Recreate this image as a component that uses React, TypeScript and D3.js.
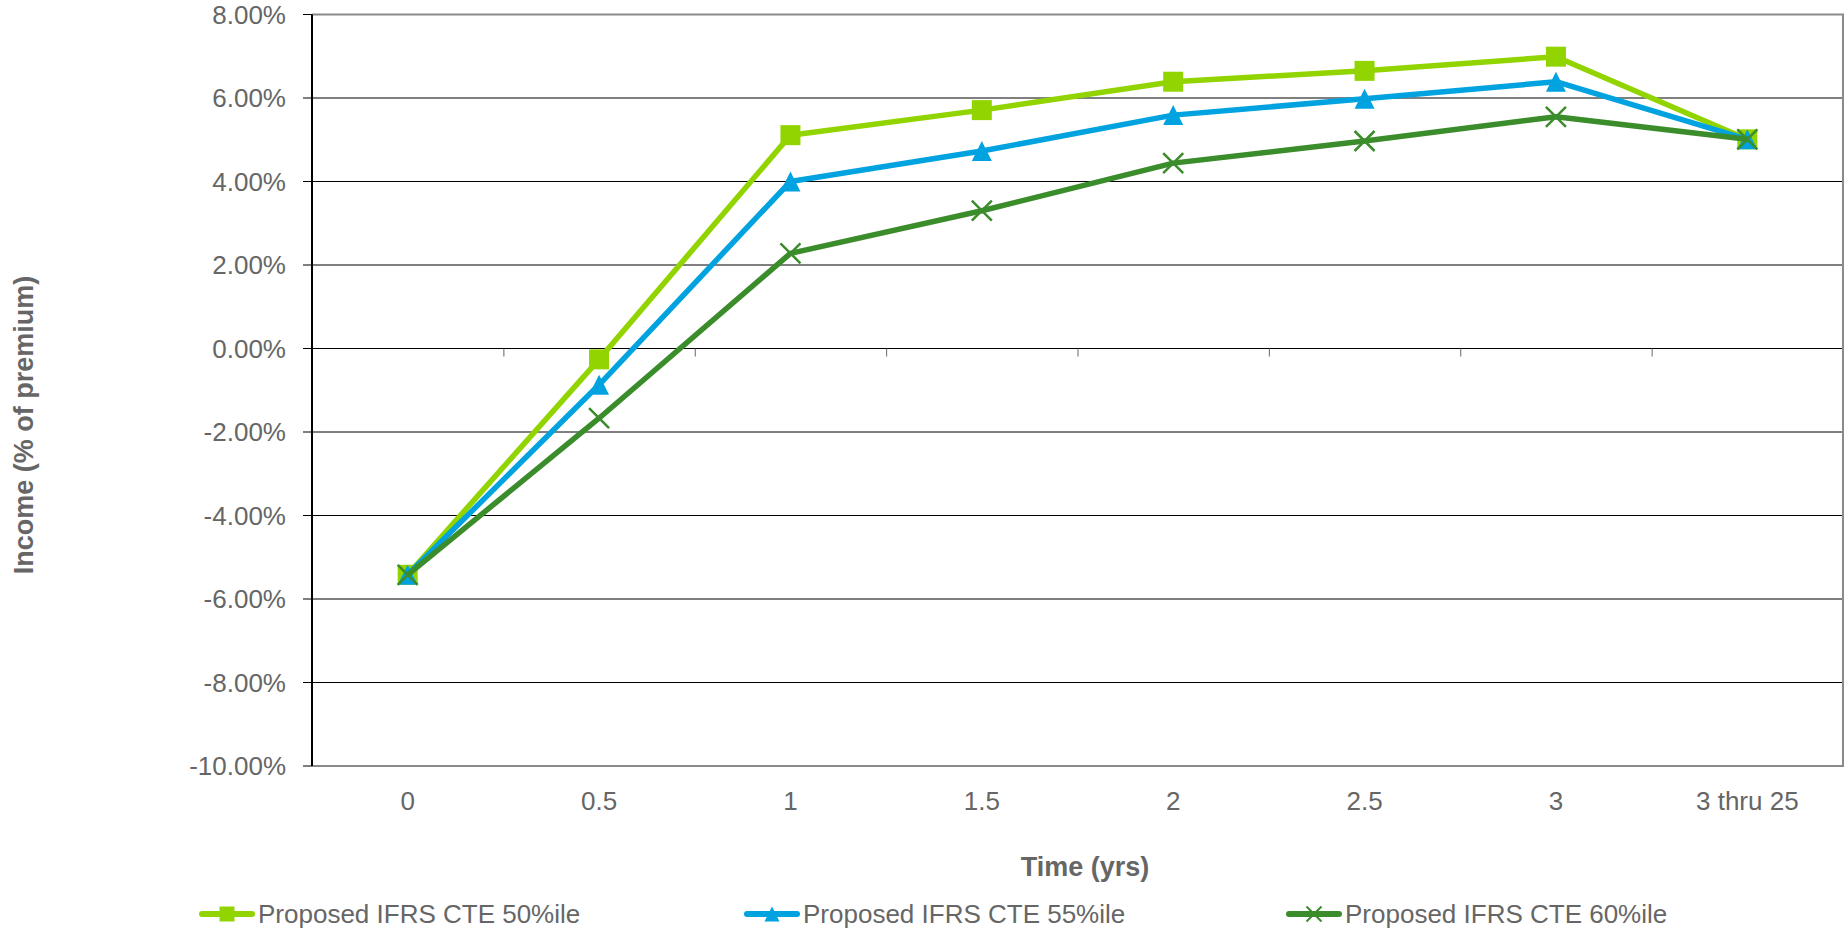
import React from "react";
import * as d3 from "d3";

const categories = ["0", "0.5", "1", "1.5", "2", "2.5", "3", "3 thru 25"];
const cte50 = [-5.42, -0.26, 5.11, 5.71, 6.39, 6.65, 6.99, 5.01];
const cte55 = [-5.42, -0.87, 4.0, 4.73, 5.59, 5.98, 6.39, 5.01];
const cte60 = [-5.42, -1.67, 2.28, 3.3, 4.44, 4.97, 5.55, 5.01];
const seriesNames = [
  "Proposed IFRS CTE 50%ile",
  "Proposed IFRS CTE 55%ile",
  "Proposed IFRS CTE 60%ile",
];
const yTicks = [8, 6, 4, 2, 0, -2, -4, -6, -8, -10];

const W = 1845;
const H = 934;
const FONT = "'Liberation Sans', Arial, Helvetica, sans-serif";
const TEXT = "#666666";

// box-centred triangle, like Excel's marker
const triangleType = {
  draw(ctx: any, size: number) {
    const r = Math.sqrt(size) / 2;
    ctx.moveTo(0, -r);
    ctx.lineTo(r, r);
    ctx.lineTo(-r, r);
    ctx.closePath();
  },
};
const crossType = {
  draw(ctx: any, size: number) {
    const r = Math.sqrt(size) / 2;
    ctx.moveTo(-r, -r);
    ctx.lineTo(r, r);
    ctx.moveTo(r, -r);
    ctx.lineTo(-r, r);
  },
};

const series = [
  { name: seriesNames[0], values: cte50, color: "#92d400", marker: "square" },
  { name: seriesNames[1], values: cte55, color: "#00a3e0", marker: "triangle" },
  { name: seriesNames[2], values: cte60, color: "#3b8c2b", marker: "cross" },
];

const markerPath = (kind: string, side: number) => {
  const type =
    kind === "square" ? d3.symbolSquare : kind === "triangle" ? triangleType : crossType;
  return d3.symbol().type(type as any).size(side * side)() as string;
};

const App: React.FC = () => {
  const margin = { top: 14.5, right: 2, bottom: 168, left: 312 };
  const x = d3
    .scaleBand<string>()
    .domain(categories)
    .range([margin.left, W - margin.right]);
  const y = d3.scaleLinear().domain([-10, 8]).range([H - margin.bottom, margin.top]);
  const cx = (c: string) => (x(c) as number) + x.bandwidth() / 2;

  const line = d3
    .line<number>()
    .x((_, i) => cx(categories[i]))
    .y((d) => y(d));

  const x0 = margin.left;
  const x1 = W - margin.right;
  const yTop = y(8);
  const yBot = y(-10);
  const yZero = y(0);

  const legendX = [199, 744, 1286];
  const legendY = 914;

  return (
    <svg
      width={W}
      height={H}
      style={{ position: "absolute", left: 0, top: 0, display: "block", background: "#fff" }}
      fontFamily={FONT}
    >
      {/* gridlines */}
      {yTicks.map((t) => (
        <line key={t} x1={x0} x2={x1} y1={y(t)} y2={y(t)} stroke="#000" strokeWidth={1} />
      ))}
      {/* plot border */}
      <path
        d={`M${x0},${yTop}H${x1}V${yBot}H${x0}`}
        fill="none"
        stroke="#8a8a8a"
        strokeWidth={2}
      />
      {/* y axis */}
      <line x1={x0} x2={x0} y1={yTop} y2={yBot} stroke="#000" strokeWidth={2} />
      {yTicks.map((t) => (
        <line key={"t" + t} x1={x0 - 9} x2={x0} y1={y(t)} y2={y(t)} stroke="#000" strokeWidth={1} />
      ))}
      {yTicks.map((t) => (
        <text
          key={"l" + t}
          x={286}
          y={y(t)}
          dy="0.35em"
          textAnchor="end"
          fontSize={26}
          fill={TEXT}
        >
          {t.toFixed(2) + "%"}
        </text>
      ))}
      {/* category ticks on zero line */}
      {categories.slice(1).map((c) => (
        <line
          key={"ct" + c}
          x1={(x(c) as number) + 0.5}
          x2={(x(c) as number) + 0.5}
          y1={yZero}
          y2={yZero + 8}
          stroke="#666"
          strokeWidth={1}
        />
      ))}
      {categories.map((c) => (
        <text key={"cl" + c} x={cx(c)} y={801} dy="0.35em" textAnchor="middle" fontSize={26} fill={TEXT}>
          {c}
        </text>
      ))}

      {/* axis titles */}
      <text x={1085} y={867} dy="0.35em" textAnchor="middle" fontSize={27} fontWeight="bold" fill={TEXT}>
        Time (yrs)
      </text>
      <text
        transform={`translate(24,425) rotate(-90)`}
        dy="0.35em"
        textAnchor="middle"
        fontSize={27}
        fontWeight="bold"
        fill={TEXT}
      >
        Income (% of premium)
      </text>

      {/* series */}
      {series.map((s) => (
        <g key={s.name}>
          <path
            d={line(s.values) as string}
            fill="none"
            stroke={s.color}
            strokeWidth={5.5}
            strokeLinejoin="round"
          />
          {s.values.map((v, i) => (
            <path
              key={i}
              transform={`translate(${cx(categories[i])},${y(v)})`}
              d={markerPath(s.marker, 20)}
              fill={s.marker === "cross" ? "none" : s.color}
              stroke={s.color}
              strokeWidth={s.marker === "cross" ? 2.5 : 0}
            />
          ))}
        </g>
      ))}

      {/* legend */}
      {series.map((s, i) => (
        <g key={"lg" + s.name} transform={`translate(${legendX[i]},${legendY})`}>
          <line x1={3} x2={53} y1={0} y2={0} stroke={s.color} strokeWidth={6} strokeLinecap="round" />
          <path
            transform="translate(28,0)"
            d={markerPath(s.marker, 15)}
            fill={s.marker === "cross" ? "none" : s.color}
            stroke={s.color}
            strokeWidth={s.marker === "cross" ? 2 : 0}
          />
          <text x={59} y={0} dy="0.35em" fontSize={26} fill={TEXT}>
            {s.name}
          </text>
        </g>
      ))}
    </svg>
  );
};

export default App;
